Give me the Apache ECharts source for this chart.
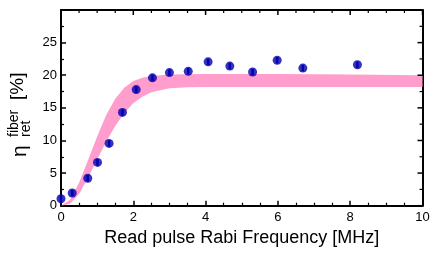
<!DOCTYPE html>
<html>
<head>
<meta charset="utf-8">
<script src="https://cdn.jsdelivr.net/npm/echarts@6/dist/echarts.min.js"></script>
<style>
html,body{margin:0;padding:0;background:#fff;}
#chart{width:436px;height:255px;}
</style>
</head>
<body>
<div id="chart"></div>
<script>
// Measured points
var xData = [0, 0.31, 0.74, 1.01, 1.33, 1.70, 2.08, 2.53, 3.0, 3.52, 4.07, 4.67, 5.30, 5.98, 6.69, 8.2];
var yData = [1.07, 1.95, 4.2, 6.64, 9.55, 14.3, 17.8, 19.6, 20.4, 20.6, 22.05, 21.4, 20.5, 22.3, 21.1, 21.6];
var yErr  = [0.5, 0.5, 0.5, 0.5, 0.5, 0.5, 0.5, 0.5, 0.5, 0.5, 0.5, 0.5, 0.5, 0.5, 0.5, 0.5];

// Theory band
var bandX     = [0, 0.25, 0.5, 0.75, 1, 1.25, 1.5, 1.75, 2, 2.25, 2.5, 3, 3.5, 4, 5, 6, 8, 10];
var bandUpper = [0, 0.9, 3.5, 7.0, 10.6, 13.9, 16.4, 18.1, 19.1, 19.6, 19.9, 20.1, 20.15, 20.2, 20.2, 20.2, 20.1, 20.0];
var bandLower = [0, 0.3, 1.8, 4.3, 7.1, 9.8, 12.2, 14.2, 15.7, 16.7, 17.4, 18.0, 18.15, 18.2, 18.2, 18.2, 18.2, 18.2];

// Axis ticks
var xTicks = {min: 0, max: 10, interval: 2};
var yTicks = {min: 0, max: 30, interval: 5, lastLabel: 25};
var xMajorTicks = [0, 2, 4, 6, 8, 10];
var xMinorTicks = [0.5, 1, 1.5, 2.5, 3, 3.5, 4.5, 5, 5.5, 6.5, 7, 7.5, 8.5, 9, 9.5];
var yMajorTicks = [0, 5, 10, 15, 20, 25, 30];
var yMinorTicks = [2.5, 7.5, 12.5, 17.5, 22.5, 27.5];

var FONT = "'Liberation Sans', Arial, Helvetica, sans-serif";
var BLUE = '#0000b0';
var PINK = '#ff9dcd';

var chart = echarts.init(document.getElementById('chart'), null, {renderer: 'canvas'});

function makeAxis(pos, t, split, labels, ticks) {
  return {
    type: 'value', position: pos, min: t.min, max: t.max, interval: t.interval,
    axisLine: {show: true, onZero: false, lineStyle: {color: '#000', width: 2}},
    axisTick: {show: ticks, inside: true, length: 5, lineStyle: {color: '#000', width: 1.5}},
    minorTick: {show: ticks, splitNumber: split, length: 3, lineStyle: {color: '#000', width: 1.2}},
    splitLine: {show: false},
    minorSplitLine: {show: false},
    axisLabel: labels
  };
}

var xBottom = makeAxis('bottom', xTicks, 4,
  {show: true, color: '#000', fontSize: 13, fontFamily: FONT, margin: 5}, true);
xBottom.name = 'Read pulse Rabi Frequency [MHz]';
xBottom.nameLocation = 'middle';
xBottom.nameGap = 19;
xBottom.nameTextStyle = {color: '#000', fontSize: 18, fontFamily: FONT};
var xTop = makeAxis('top', xTicks, 4, {show: false}, false);
var yLeft = makeAxis('left', yTicks, 2,
  {show: true, color: '#000', fontSize: 13, fontFamily: FONT, margin: 4,
   formatter: function (v) { return v > yTicks.lastLabel ? '' : String(v); }}, true);
var yRight = makeAxis('right', yTicks, 2, {show: false}, false);

var scatterData = xData.map(function (x, i) { return [x, yData[i]]; });
var errData = xData.map(function (x, i) { return [x, yData[i] - yErr[i], yData[i] + yErr[i]]; });

// mirrored ticks on the top edge (at y max) and right edge (at x max): [x, y, dx, dy]
var frameTicks = [];
xMajorTicks.forEach(function (v) { frameTicks.push([v, yTicks.max, 0, 5]); });
xMinorTicks.forEach(function (v) { frameTicks.push([v, yTicks.max, 0, 3]); });
yMajorTicks.forEach(function (v) { frameTicks.push([xTicks.max, v, -5, 0]); });
yMinorTicks.forEach(function (v) { frameTicks.push([xTicks.max, v, -3, 0]); });

var option = {
  animation: false,
  backgroundColor: '#fff',
  grid: {left: 61, right: 13.5, top: 10, bottom: 49.3, containLabel: false},
  xAxis: [xBottom, xTop],
  yAxis: [yLeft, yRight],
  series: [
    {
      type: 'custom', xAxisIndex: 0, yAxisIndex: 0, clip: true, z: 1,
      data: [[bandX[0], bandLower[0]]],
      renderItem: function (params, api) {
        var pts = [];
        for (var i = 0; i < bandX.length; i++) pts.push(api.coord([bandX[i], bandUpper[i]]));
        for (var j = bandX.length - 1; j >= 0; j--) pts.push(api.coord([bandX[j], bandLower[j]]));
        return {type: 'polygon', shape: {points: pts}, style: {fill: PINK}};
      }
    },
    {
      type: 'custom', xAxisIndex: 0, yAxisIndex: 0, z: 10, clip: false, silent: true,
      data: frameTicks,
      renderItem: function (params, api) {
        var p = api.coord([api.value(0), api.value(1)]);
        var dx = api.value(2), dy = api.value(3);
        var major = Math.abs(dx) + Math.abs(dy) > 4;
        return {type: 'line', shape: {x1: p[0], y1: p[1], x2: p[0] + dx, y2: p[1] + dy},
          style: {stroke: '#000', lineWidth: major ? 1.5 : 1.2}};
      }
    },
    {
      type: 'custom', xAxisIndex: 0, yAxisIndex: 0, z: 3,
      data: errData,
      renderItem: function (params, api) {
        var lo = api.coord([api.value(0), api.value(1)]);
        var hi = api.coord([api.value(0), api.value(2)]);
        return {type: 'line', shape: {x1: lo[0], y1: lo[1], x2: hi[0], y2: hi[1]},
          style: {stroke: BLUE, lineWidth: 2.5}};
      }
    },
    {
      type: 'scatter', xAxisIndex: 0, yAxisIndex: 0, z: 4,
      data: scatterData, symbol: 'circle', symbolSize: 9,
      itemStyle: {color: BLUE}
    }
  ],
  graphic: [
    {type: 'text', x: 20, y: 157, rotation: Math.PI / 2,
      style: {text: 'η', font: '21px ' + FONT, fill: '#000', textAlign: 'left', textVerticalAlign: 'middle'}},
    {type: 'text', x: 14.5, y: 137, rotation: Math.PI / 2,
      style: {text: 'fiber', font: '14px ' + FONT, fill: '#000', textAlign: 'left', textVerticalAlign: 'middle'}},
    {type: 'text', x: 26.5, y: 137, rotation: Math.PI / 2,
      style: {text: 'ret', font: '14px ' + FONT, fill: '#000', textAlign: 'left', textVerticalAlign: 'middle'}},
    {type: 'text', x: 17.5, y: 100, rotation: Math.PI / 2,
      style: {text: '[%]', font: '19px ' + FONT, fill: '#000', textAlign: 'left', textVerticalAlign: 'middle'}}
  ]
};
chart.setOption(option);
</script>
</body>
</html>
